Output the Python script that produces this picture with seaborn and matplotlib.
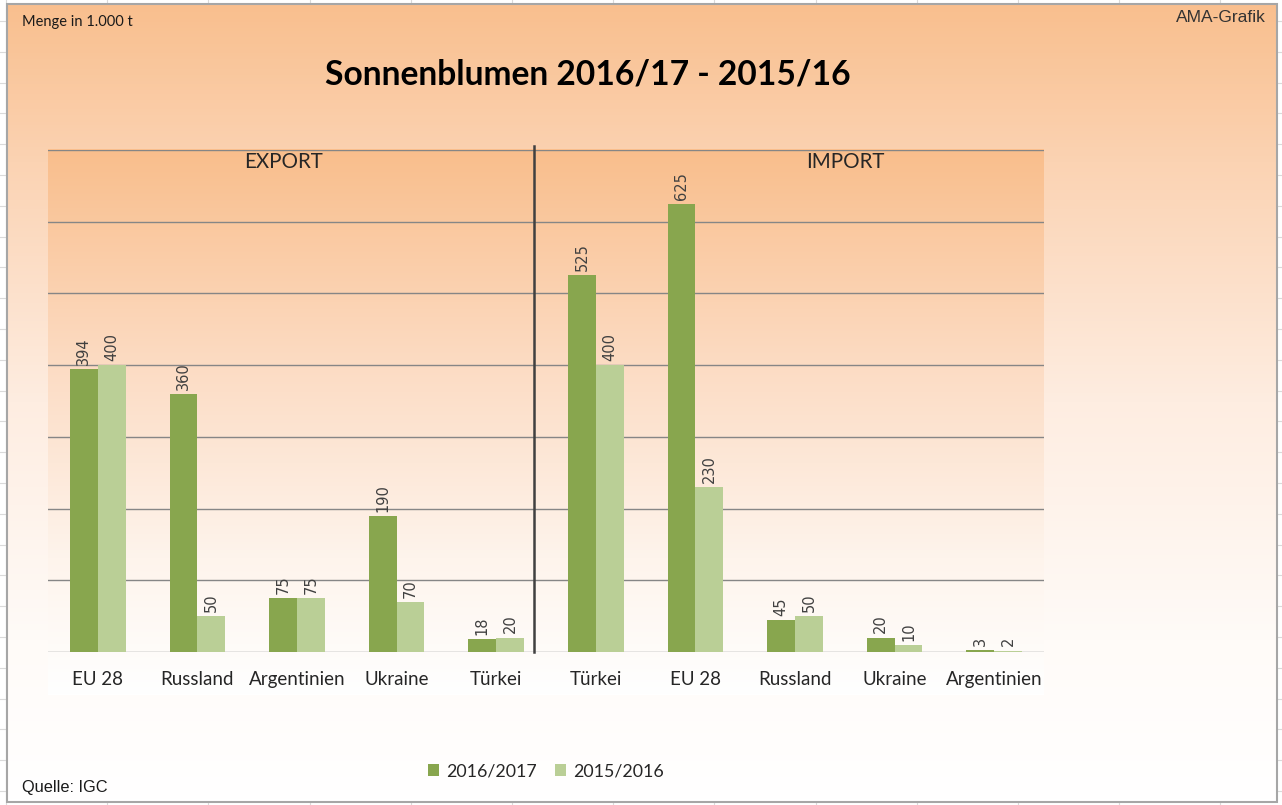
import numpy as np
import pandas as pd
import matplotlib.pyplot as plt
import seaborn as sns
from matplotlib.colors import LinearSegmentedColormap
from matplotlib.patches import Rectangle

sections = ["EXPORT"] * 5 + ["IMPORT"] * 5
countries = ["EU 28", "Russland", "Argentinien", "Ukraine", "Türkei",
             "Türkei", "EU 28", "Russland", "Ukraine", "Argentinien"]
season_1617 = [394, 360, 75, 190, 18, 525, 625, 45, 20, 3]
season_1516 = [400, 50, 75, 70, 20, 400, 230, 50, 10, 2]
seasons = ["2016/2017", "2015/2016"]
colors = ["#88A64E", "#BACF96"]

keys = [f"{s}|{c}" for s, c in zip(sections, countries)]
df = pd.DataFrame({
    "key": keys * 2,
    "season": [seasons[0]] * 10 + [seasons[1]] * 10,
    "value": season_1617 + season_1516,
})

W, H = 1282, 805
fig = plt.figure(figsize=(W / 100, H / 100), dpi=100)


def px(x0, y0, x1, y1):
    return [x0 / W, 1 - y1 / H, (x1 - x0) / W, (y1 - y0) / H]


# background: spreadsheet cells + chart frame with gradient
bg = fig.add_axes([0, 0, 1, 1])
bg.set_xlim(0, W)
bg.set_ylim(H, 0)
bg.axis("off")
for x in np.arange(6, W, 101.2):
    bg.axvline(x, color="#DADADA", lw=0.8, zorder=1)
for y in np.arange(21, H, 30.8):
    bg.axhline(y, color="#DADADA", lw=0.8, zorder=1)

outer = LinearSegmentedColormap.from_list(
    "outer", [(0, "#F9BF8E"), (0.2, "#FBD3B3"), (0.5, "#FEEDE1"),
              (0.8, "#FFFBF8"), (1, "#FFFFFF")])
inner = LinearSegmentedColormap.from_list(
    "inner", [(0, "#F9BE8C"), (0.4, "#FCDCC4"), (0.75, "#FEF4EC"),
              (1, "#FFFFFF")])
ramp = np.linspace(0, 1, 256).reshape(-1, 1)
bg.imshow(ramp, extent=(7, 1277, 802, 4), cmap=outer, aspect="auto", zorder=2)
bg.add_patch(Rectangle((7, 4), 1270, 798, fill=False, ec="#A6A6A6", lw=1.5, zorder=3))
bg.imshow(ramp, extent=(48, 1044, 695, 150), cmap=inner, aspect="auto", zorder=3)

# texts on the chart area
bg.text(22, 22, "Menge in 1.000 t", fontsize=10.5, family="Lato", va="center", color="#1A1A1A", zorder=5)
bg.text(1266, 18, "AMA-Grafik", fontsize=12.5, family="Liberation Sans", ha="right", va="center",
        color="#333333", zorder=5)
bg.text(22, 787, "Quelle: IGC", fontsize=11.8, family="Liberation Sans", va="center", color="#1A1A1A", zorder=5)
bg.text(588, 74, "Sonnenblumen 2016/17 - 2015/16", fontsize=24.2, family="Lato", weight="bold",
        ha="center", va="center", color="#000000", zorder=5)
bg.text(283, 162, "EXPORT", fontsize=14.8, family="Lato", ha="center", va="center", color="#262626", zorder=5)
bg.text(845, 162, "IMPORT", fontsize=14.8, family="Lato", ha="center", va="center", color="#262626", zorder=5)

# bars
ax = fig.add_axes(px(48, 150, 1044, 652))
ax.set_zorder(4)
ax.patch.set_alpha(0)
sns.barplot(data=df, x="key", y="value", hue="season", order=keys, hue_order=seasons,
            palette=colors, width=0.56, saturation=1, ax=ax)
ax.set_xlim(-0.5, 9.5)
ax.set_ylim(0, 700)
ax.set_yticks(range(0, 701, 100))
ax.set_yticklabels([])
ax.yaxis.grid(True, color="#868686", lw=1)
ax.set_axisbelow(True)
for sp in ax.spines.values():
    sp.set_visible(False)
ax.tick_params(axis="both", length=0)
ax.tick_params(axis="x", pad=14)
ax.set_xticks(range(len(countries)), countries, fontsize=13.5, family="Lato", color="#262626")
ax.set_xlabel("")
ax.set_ylabel("")

for cont in ax.containers:
    ax.bar_label(cont, rotation=90, padding=3, fontsize=10.5, color="#404040")

# divider between export and import
ax.plot([4.38, 4.38], [0, 705], color="#404040", lw=1.8, clip_on=False, zorder=3)

handles, labels = ax.get_legend_handles_labels()
ax.get_legend().remove()
fig.legend(handles, labels, loc="center", bbox_to_anchor=(546 / W, 1 - 771 / H), ncol=2,
           frameon=False, handlelength=0.65, handleheight=0.65, columnspacing=1.0,
           handletextpad=0.4, prop={"family": "Lato", "size": 12.8}, labelcolor="#262626")

fig.savefig("out.png", dpi=100)
